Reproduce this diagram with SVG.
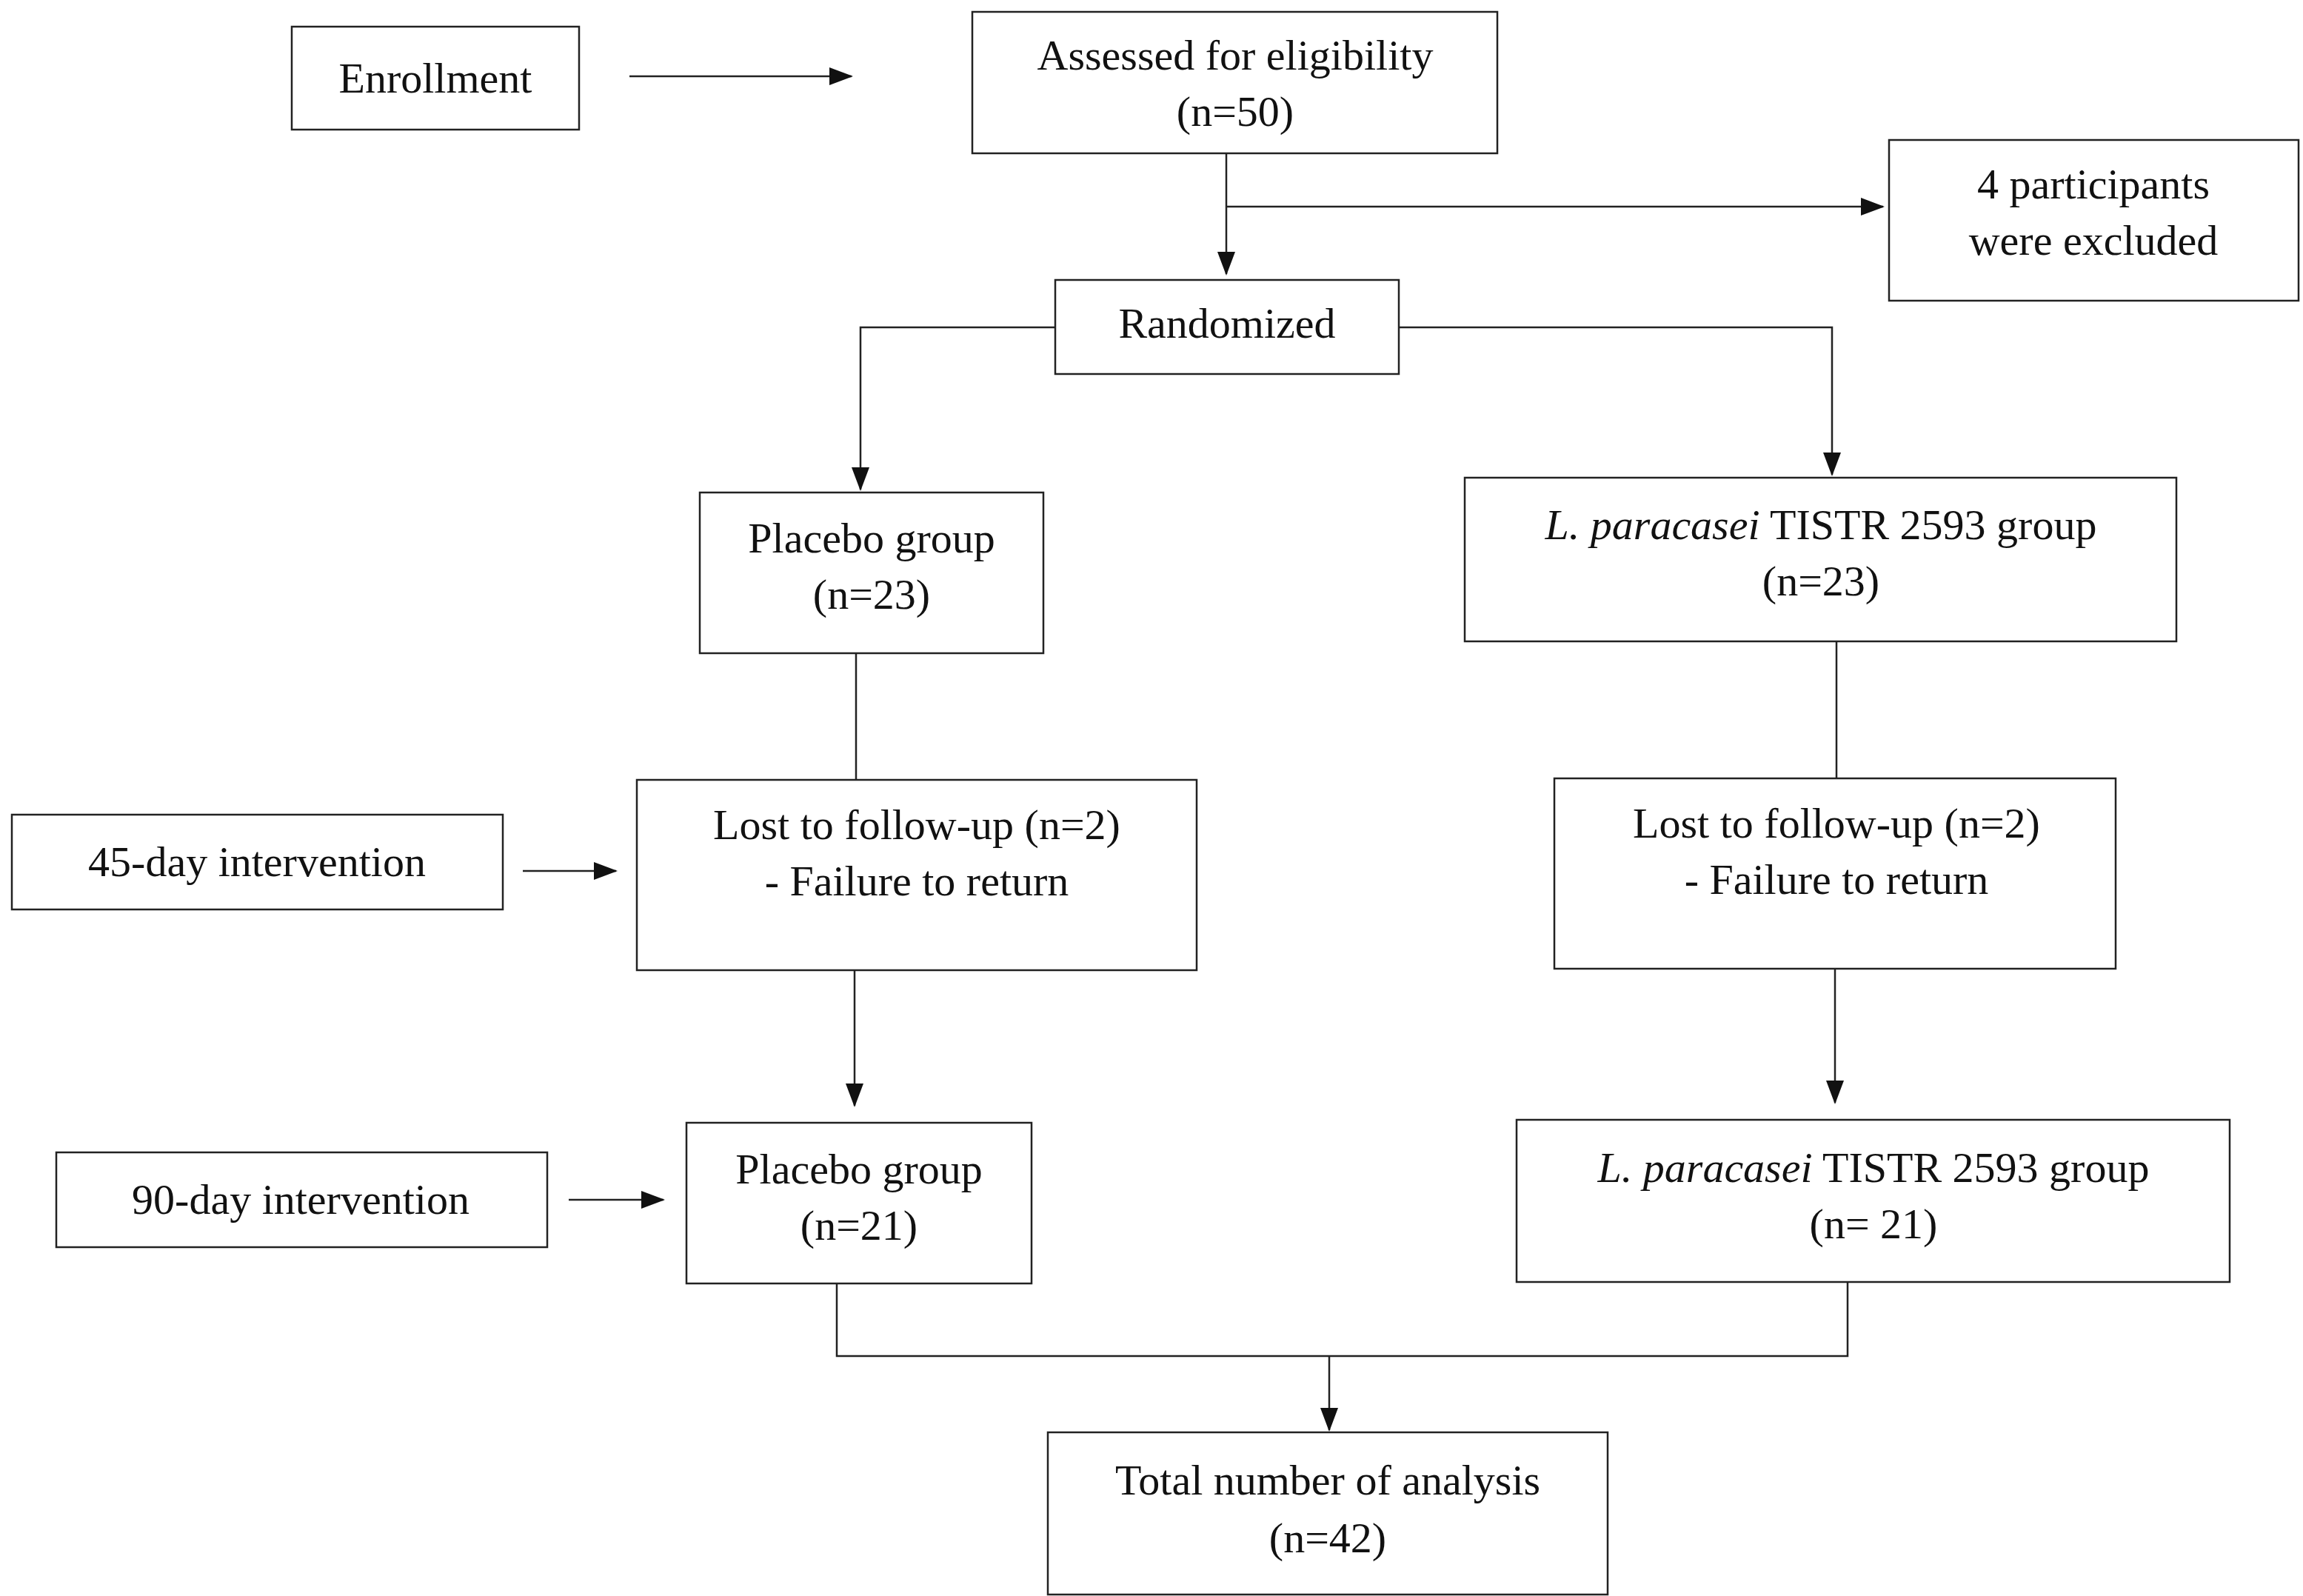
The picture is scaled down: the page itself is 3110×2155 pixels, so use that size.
<svg xmlns="http://www.w3.org/2000/svg" width="3110" height="2155" viewBox="0 0 3110 2155">
<style>
rect{fill:#fff;stroke:#222;stroke-width:2.5}
text{font-family:"Liberation Serif","Times New Roman",serif;font-size:58px;fill:#111;text-anchor:middle}
.c path{fill:none;stroke:#222;stroke-width:2.5}
</style>
<defs><marker id="a" markerUnits="userSpaceOnUse" markerWidth="32" markerHeight="24" refX="30" refY="12" orient="auto"><path d="M0,0 L32,12 L0,24 Z" fill="#111"/></marker></defs>
<rect width="3110" height="2155" style="stroke:none"/>
<g class="c">
<path d="M850,103 H1150" marker-end="url(#a)"/>
<path d="M1656,207 V370" marker-end="url(#a)"/>
<path d="M1656,279 H2543" marker-end="url(#a)"/>
<path d="M1425,442 H1162 V661" marker-end="url(#a)"/>
<path d="M1889,442 H2474 V641" marker-end="url(#a)"/>
<path d="M1156,882 V1053"/>
<path d="M2480,866 V1051"/>
<path d="M706,1176 H832" marker-end="url(#a)"/>
<path d="M1154,1310 V1493" marker-end="url(#a)"/>
<path d="M2478,1308 V1489" marker-end="url(#a)"/>
<path d="M768,1620 H896" marker-end="url(#a)"/>
<path d="M1130,1733 V1831 H2495 V1731"/>
<path d="M1795,1831 V1931" marker-end="url(#a)"/>
</g>
<g id="enroll"><rect x="394" y="36" width="388" height="139"/><text x="588" y="125">Enrollment</text></g>
<g id="assessed"><rect x="1313" y="16" width="709" height="191"/><text x="1668" y="94">Assessed for eligibility</text><text x="1668" y="170">(n=50)</text></g>
<g id="excluded"><rect x="2551" y="189" width="553" height="217"/><text x="2827" y="268">4 participants</text><text x="2827" y="344">were excluded</text></g>
<g id="random"><rect x="1425" y="378" width="464" height="127"/><text x="1657" y="456">Randomized</text></g>
<g id="placebo1"><rect x="945" y="665" width="464" height="217"/><text x="1177" y="746">Placebo group</text><text x="1177" y="822">(n=23)</text></g>
<g id="lp1"><rect x="1978" y="645" width="961" height="221"/><text x="2459" y="728"><tspan font-style="italic">L. paracasei</tspan> TISTR 2593 group</text><text x="2459" y="804">(n=23)</text></g>
<g id="day45"><rect x="16" y="1100" width="663" height="128"/><text x="347" y="1183">45-day intervention</text></g>
<g id="lost1"><rect x="860" y="1053" width="756" height="257"/><text x="1238" y="1133">Lost to follow-up (n=2)</text><text x="1238" y="1209">- Failure to return</text></g>
<g id="lost2"><rect x="2099" y="1051" width="758" height="257"/><text x="2480" y="1131">Lost to follow-up (n=2)</text><text x="2480" y="1207">- Failure to return</text></g>
<g id="day90"><rect x="76" y="1556" width="663" height="128"/><text x="406" y="1639">90-day intervention</text></g>
<g id="placebo2"><rect x="927" y="1516" width="466" height="217"/><text x="1160" y="1598">Placebo group</text><text x="1160" y="1674">(n=21)</text></g>
<g id="lp2"><rect x="2048" y="1512" width="963" height="219"/><text x="2530" y="1596"><tspan font-style="italic">L. paracasei</tspan> TISTR 2593 group</text><text x="2530" y="1672">(n= 21)</text></g>
<g id="total"><rect x="1415" y="1934" width="756" height="219"/><text x="1793" y="2018">Total number of analysis</text><text x="1793" y="2096">(n=42)</text></g>
</svg>
